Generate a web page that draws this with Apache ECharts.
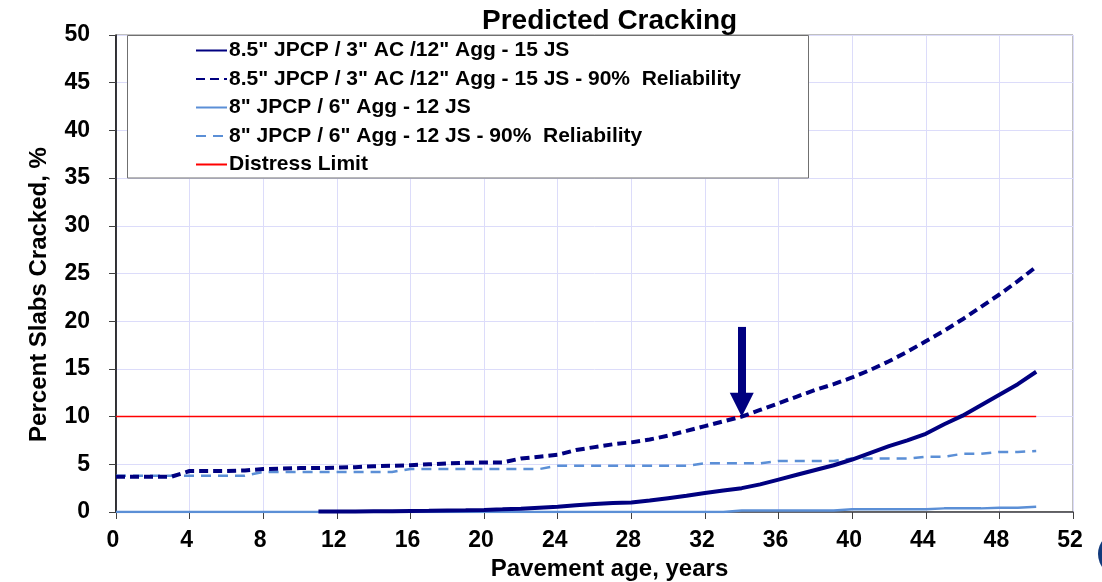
<!DOCTYPE html>
<html>
<head>
<meta charset="utf-8">
<script src="https://cdn.jsdelivr.net/npm/echarts@6/dist/echarts.min.js"></script>
<style>
html,body{margin:0;padding:0;background:#fff;}
#chart{width:1102px;height:582px;}
</style>
</head>
<body>
<div id="chart"></div>
<script>
// ---- data ----
const years = [0,1,2,3,4,5,6,7,8,9,10,11,12,13,14,15,16,17,18,19,20,21,22,23,24,25,26,27,28,29,30,31,32,33,34,35,36,37,38,39,40,41,42,43,44,45,46,47,48,49,50];
const xTicks = [0,4,8,12,16,20,24,28,32,36,40,44,48,52];
const yTicks = [0,5,10,15,20,25,30,35,40,45,50];

// 8.5" JPCP / 3" AC /12" Agg - 15 JS
const jpcp85 = [null,null,null,null,null,null,null,null,null,null,null,0.05,0.05,0.06,0.07,0.08,0.1,0.12,0.15,0.18,0.22,0.28,0.35,0.45,0.55,0.7,0.85,0.95,1.0,1.2,1.45,1.7,2.0,2.25,2.5,2.9,3.4,3.9,4.4,4.9,5.5,6.2,6.9,7.5,8.2,9.2,10.1,11.2,12.3,13.4,14.7];
// 8.5" ... - 90% Reliability
const jpcp85Rel = [3.7,3.7,3.7,3.7,4.3,4.3,4.3,4.35,4.5,4.55,4.6,4.6,4.65,4.7,4.8,4.85,4.9,5.0,5.1,5.15,5.2,5.2,5.6,5.8,6.0,6.5,6.8,7.1,7.3,7.6,8.0,8.5,9.0,9.5,10.0,10.7,11.4,12.1,12.8,13.4,14.1,14.9,15.8,16.8,17.9,19.0,20.2,21.5,22.8,24.2,25.7];
// 8" JPCP / 6" Agg - 12 JS
const jpcp8 = [0,0,0,0,0,0,0,0,0,0,0,0,0,0,0,0,0,0,0,0,0,0,0,0,0,0,0,0,0,0,0,0,0,0,0.15,0.17,0.17,0.17,0.17,0.17,0.3,0.3,0.3,0.3,0.3,0.38,0.38,0.38,0.45,0.45,0.55];
// 8" ... - 90% Reliability
const jpcp8Rel = [3.8,3.8,3.8,3.8,3.8,3.8,3.8,3.8,4.2,4.2,4.2,4.2,4.2,4.2,4.2,4.2,4.5,4.5,4.5,4.5,4.5,4.5,4.5,4.5,4.85,4.85,4.85,4.85,4.85,4.85,4.85,4.85,5.1,5.1,5.1,5.1,5.35,5.35,5.35,5.35,5.6,5.6,5.6,5.6,5.8,5.8,6.1,6.1,6.3,6.3,6.4];
const distressLimit = 10;
const limitRange = [0, 50];
// arrow marking where the 90% reliability curve crosses the limit
const arrowAge = 34;
const arrowFrom = 19.4;
const arrowTo = 10;

const names = [
  '8.5" JPCP / 3" AC /12" Agg - 15 JS',
  '8.5" JPCP / 3" AC /12" Agg - 15 JS - 90%  Reliability',
  '8" JPCP / 6" Agg - 12 JS',
  '8" JPCP / 6" Agg - 12 JS - 90%  Reliability',
  'Distress Limit'
];

const pair = (vals) => years.map((y, i) => [y, vals[i]]);

const NAVY = '#000080';
const LIGHT = '#5b8fd6';
const FONT = '"Liberation Sans", Arial, sans-serif';
const gridColor = '#dcdcfa';

const chart = echarts.init(document.getElementById('chart'), null, {renderer: 'canvas'});

const option = {
  backgroundColor: '#ffffff',
  animation: false,
  title: {
    text: 'Predicted Cracking',
    left: 477, top: 2,
    textStyle: {fontFamily: FONT, fontWeight: 'bold', fontSize: 28, color: '#000'}
  },
  graphic: [{
    type: 'rect', z: 50,
    shape: {x: 127.5, y: 35.5, width: 681, height: 142.5},
    style: {fill: '#fff', stroke: '#707070', lineWidth: 1}
  }, {
    type: 'circle', z: 1,
    shape: {cx: 1120, cy: 554, r: 22},
    style: {fill: '#123a7c'}
  }],
  legend: {
    orient: 'vertical',
    left: 127, top: 36,
    z: 60,
    padding: [4, 10, 4, 68],
    itemWidth: 31, itemHeight: 20, itemGap: 8.5 - 1,
    data: names,
    itemStyle: {color: 'transparent', borderWidth: 0, opacity: 0},
    textStyle: {fontFamily: FONT, fontWeight: 'bold', fontSize: 21, color: '#000', padding: [0,0,0,-3]}
  },
  grid: {
    left: 116, right: 29, top: 35, bottom: 70,
    outerBoundsMode: 'none',
    containLabel: false,
    show: true, borderColor: '#808080', borderWidth: 1, backgroundColor: 'transparent'
  },
  xAxis: {
    type: 'value', min: 0, max: 52, interval: 4,
    name: 'Pavement age, years', nameLocation: 'middle', nameGap: 44,
    nameTextStyle: {fontFamily: FONT, fontWeight: 'bold', fontSize: 24, color: '#000', padding: [0, 0, 0, 30]},
    axisLine: {show: true, onZero: false, lineStyle: {color: '#404040', width: 1.5}},
    axisTick: {show: true, length: 7, lineStyle: {color: '#404040'}},
    axisLabel: {fontFamily: FONT, fontWeight: 'bold', fontSize: 23, color: '#000', margin: 17, padding: [0, 6, 0, 0]},
    splitLine: {show: true, lineStyle: {color: gridColor, width: 1}}
  },
  yAxis: {
    type: 'value', min: 0, max: 50, interval: 5,
    name: 'Percent Slabs Cracked, %', nameLocation: 'middle', nameGap: 65,
    nameTextStyle: {fontFamily: FONT, fontWeight: 'bold', fontSize: 24, color: '#000', padding: [0, 42, 0, 0]},
    axisLine: {show: true, lineStyle: {color: '#000', width: 1.5}},
    axisTick: {show: true, inside: false, length: 7, lineStyle: {color: '#404040'}},
    axisLabel: {fontFamily: FONT, fontWeight: 'bold', fontSize: 23, color: '#000', margin: 26},
    splitLine: {show: true, lineStyle: {color: gridColor, width: 1}}
  },
  series: [
    {
      name: names[4], type: 'line', symbol: 'none', z: 2,
      data: limitRange.map(x => [x, distressLimit]),
      lineStyle: {color: '#ff0000', width: 1.5}, itemStyle: {color: '#ff0000'}
    },
    {
      name: names[2], type: 'line', symbol: 'none', z: 3,
      data: pair(jpcp8),
      lineStyle: {color: LIGHT, width: 2.5}, itemStyle: {color: LIGHT}
    },
    {
      name: names[3], type: 'line', symbol: 'none', z: 3,
      data: pair(jpcp8Rel),
      lineStyle: {color: LIGHT, width: 2.5, type: [10, 7]}, itemStyle: {color: LIGHT}
    },
    {
      name: names[0], type: 'line', symbol: 'none', z: 4,
      data: pair(jpcp85),
      lineStyle: {color: NAVY, width: 4}, itemStyle: {color: NAVY}
    },
    {
      name: names[1], type: 'line', symbol: 'none', z: 4,
      data: pair(jpcp85Rel),
      lineStyle: {color: NAVY, width: 4, type: [9, 5]}, itemStyle: {color: NAVY},
      markLine: {
        silent: true, animation: false,
        label: {show: false},
        lineStyle: {color: NAVY, width: 8, type: 'solid'},
        data: [[
          {coord: [arrowAge, arrowFrom], symbol: 'none'},
          {coord: [arrowAge, arrowTo + 1.25], symbol: 'triangle', symbolSize: [24, 24]}
        ]]
      }
    }
  ]
};
chart.setOption(option);
</script>
</body>
</html>
